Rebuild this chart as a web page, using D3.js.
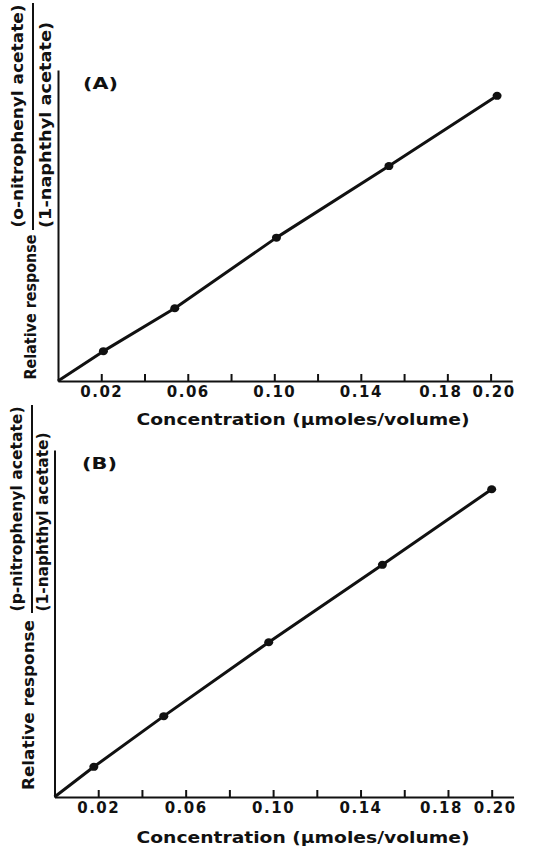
<!DOCTYPE html>
<html>
<head>
<meta charset="utf-8">
<script src="https://cdn.jsdelivr.net/npm/d3@7/dist/d3.min.js"></script>
<style>
body { margin: 0; background: #fff; }
svg text { font-family: "DejaVu Sans", sans-serif; fill: #111; }
.axis path, .axis line { stroke: #111; stroke-width: 2; }
.axis text { font-size: 15px; font-weight: bold; letter-spacing: 1.5px; }
.curve { fill: none; stroke: #111; stroke-width: 3; stroke-linejoin: round; }
.dot { fill: #111; }
</style>
</head>
<body>
<div id="chart"></div>
<script>

// values
var concTicks = [0.02, 0.04, 0.06, 0.08, 0.10, 0.12, 0.14, 0.16, 0.18, 0.20];
var concLabels = [0.02, 0.06, 0.10, 0.14, 0.18, 0.20];

var concA = [0.021, 0.054, 0.101, 0.153, 0.203];
var respA = [0.096, 0.234, 0.461, 0.691, 0.917];

var concB = [0.018, 0.050, 0.098, 0.150, 0.200];
var respB = [0.087, 0.233, 0.446, 0.669, 0.887];

var xTitle = "Concentration (\u03bcmoles/volume)";
var yTitle = "Relative response";
var numA = "(o-nitrophenyl acetate)";
var numB = "(p-nitrophenyl acetate)";
var denom = "(1-naphthyl acetate)";


var svg = d3.select("#chart").append("svg")
    .attr("width", 536)
    .attr("height", 848);


/*
 * One calibration panel
 */
PanelVis = function(_svg, _conc, _resp, _opts){
    this.svg = _svg;
    this.conc = _conc;
    this.resp = _resp;
    this.opts = _opts;

    this.initVis();
}

PanelVis.prototype.initVis = function(){
    var vis = this;
    var o = vis.opts;

    vis.x = d3.scaleLinear()
        .domain([0, 0.21])
        .range([o.left, o.left + 0.21 * o.pxPerUnit]);

    vis.y = d3.scaleLinear()
        .domain([0, 1])
        .range([o.bottom, o.top]);

    vis.g = vis.svg.append("g");

    // x axis, ticks pointing up into the plot
    var xAxis = d3.axisBottom(vis.x)
        .tickValues(concTicks)
        .tickSize(-7)
        .tickSizeOuter(0)
        .tickPadding(5)
        .tickFormat(function(d){
            var hit = concLabels.some(function(l){ return Math.abs(l - d) < 1e-9; });
            return hit ? d3.format(".2f")(d) : "";
        });

    var xg = vis.g.append("g")
        .attr("class", "axis")
        .attr("transform", "translate(0," + o.bottom + ")")
        .call(xAxis);

    xg.selectAll(".tick text")
        .attr("dx", function(d){
            if (Math.abs(d - 0.18) < 1e-9) return -7;
            if (Math.abs(d - 0.20) < 1e-9) return 3;
            return 0;
        });

    // y axis: bare line
    vis.g.append("g")
        .attr("class", "axis")
        .attr("transform", "translate(" + vis.x(0) + ",0)")
        .call(d3.axisLeft(vis.y).tickValues([]).tickSizeOuter(0));

    // line from the origin through the points
    var pts = [[0, 0]].concat(vis.conc.map(function(c, i){ return [c, vis.resp[i]]; }));

    var line = d3.line()
        .x(function(d){ return vis.x(d[0]); })
        .y(function(d){ return vis.y(d[1]); });

    vis.g.append("path")
        .datum(pts)
        .attr("class", "curve")
        .attr("d", line);

    vis.g.selectAll(".dot")
        .data(pts.slice(1))
        .enter()
        .append("ellipse")
        .attr("class", "dot")
        .attr("cx", function(d){ return vis.x(d[0]); })
        .attr("cy", function(d){ return vis.y(d[1]); })
        .attr("rx", 4.5)
        .attr("ry", 4);

    // panel letter
    vis.g.append("text")
        .text(o.letter)
        .attr("x", o.letterX)
        .attr("y", o.letterY)
        .attr("textLength", 35)
        .attr("lengthAdjust", "spacingAndGlyphs")
        .style("font-size", "15px")
        .style("font-weight", "bold");

    // x title
    vis.g.append("text")
        .text(xTitle)
        .attr("x", 303)
        .attr("y", o.titleY)
        .attr("text-anchor", "middle")
        .attr("textLength", 333)
        .attr("lengthAdjust", "spacingAndGlyphs")
        .style("font-size", "15px")
        .style("font-weight", "bold");

    // y title with fraction
    vis.g.append("text")
        .text(yTitle)
        .attr("transform", "translate(" + o.yLab.x + "," + o.yLab.cy + ") rotate(-90)")
        .attr("text-anchor", "middle")
        .attr("textLength", o.yLab.len)
        .attr("lengthAdjust", "spacingAndGlyphs")
        .style("font-size", "15px")
        .style("font-weight", "bold");

    vis.g.append("line")
        .attr("x1", o.bar.x).attr("x2", o.bar.x)
        .attr("y1", o.bar.y1).attr("y2", o.bar.y2)
        .attr("stroke", "#111")
        .attr("stroke-width", 2);

    vis.g.append("text")
        .text(o.numText)
        .attr("transform", "translate(" + o.num.x + "," + o.num.cy + ") rotate(-90)")
        .attr("text-anchor", "middle")
        .attr("textLength", o.num.len)
        .attr("lengthAdjust", "spacingAndGlyphs")
        .style("font-size", "15px")
        .style("font-weight", "bold");

    vis.g.append("text")
        .text(denom)
        .attr("transform", "translate(" + o.den.x + "," + o.den.cy + ") rotate(-90)")
        .attr("text-anchor", "middle")
        .attr("textLength", o.den.len)
        .attr("lengthAdjust", "spacingAndGlyphs")
        .style("font-size", "15px")
        .style("font-weight", "bold");
}


var panelA = new PanelVis(svg, concA, respA, {
    left: 58, pxPerUnit: 2163, bottom: 381, top: 70,
    letter: "(A)", letterX: 83, letterY: 89,
    titleY: 425,
    yLab: { x: 36, cy: 307, len: 145 },
    bar: { x: 33, y1: 3, y2: 230 },
    numText: numA,
    num: { x: 23, cy: 116, len: 223 },
    den: { x: 51, cy: 125, len: 206 }
});

var panelB = new PanelVis(svg, concB, respB, {
    left: 54.5, pxPerUnit: 2186, bottom: 797, top: 450,
    letter: "(B)", letterX: 82, letterY: 469,
    titleY: 843,
    yLab: { x: 34, cy: 705, len: 170 },
    bar: { x: 32, y1: 405, y2: 613 },
    numText: numB,
    num: { x: 22, cy: 509, len: 205 },
    den: { x: 48, cy: 522, len: 179 }
});

</script>
</body>
</html>
